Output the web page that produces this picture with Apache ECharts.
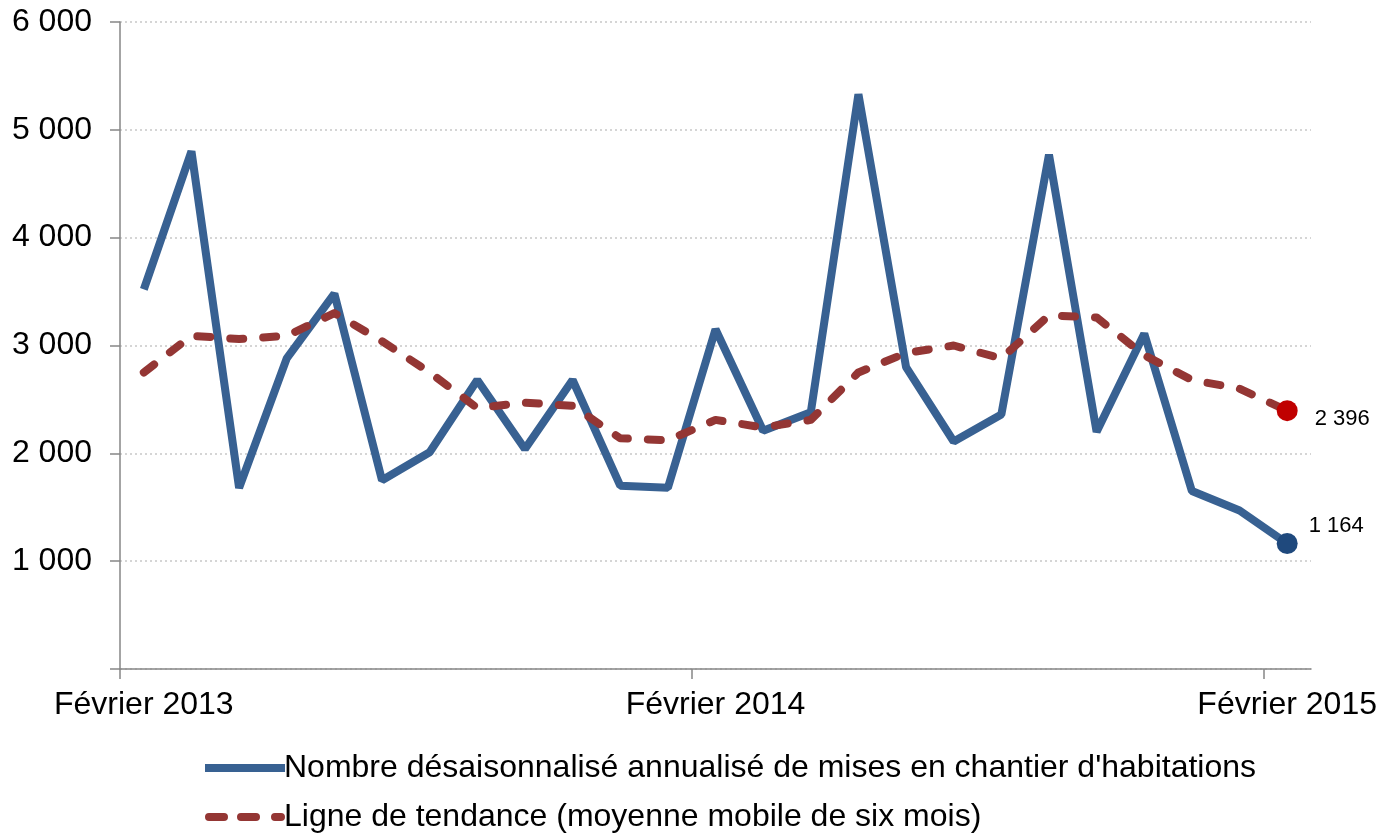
<!DOCTYPE html>
<html>
<head>
<meta charset="utf-8">
<script src="https://cdn.jsdelivr.net/npm/echarts@6/dist/echarts.min.js"></script>
<style>
html,body{margin:0;padding:0;background:#fff;}
#c{width:1393px;height:837px;}
</style>
</head>
<body>
<div id="c"></div>
<script>
const categories = [
 'Février 2013','Mars 2013','Avril 2013','Mai 2013','Juin 2013','Juillet 2013','Août 2013','Septembre 2013','Octobre 2013','Novembre 2013','Décembre 2013','Janvier 2014',
 'Février 2014','Mars 2014','Avril 2014','Mai 2014','Juin 2014','Juillet 2014','Août 2014','Septembre 2014','Octobre 2014','Novembre 2014','Décembre 2014','Janvier 2015',
 'Février 2015'];
const startsValues = [3520, 4800, 1680, 2880, 3480, 1750, 2010, 2680, 2040, 2680, 1700, 1680, 3150, 2210, 2380, 5330, 2800, 2110, 2360, 4770, 2200, 3110, 1650, 1470, 1164];
const trendValues = [2750, 3090, 3060, 3090, 3300, 3040, 2750, 2420, 2470, 2440, 2140, 2120, 2310, 2240, 2310, 2750, 2930, 3000, 2880, 3280, 3260, 2910, 2680, 2600, 2396];
const seriesNames = ["Nombre désaisonnalisé annualisé de mises en chantier d'habitations", 'Ligne de tendance (moyenne mobile de six mois)'];
// month boundaries (one more than the categories) used only to place the x-axis tick marks
const monthBoundaries = categories.concat(['']);

const FONT = 'Liberation Sans, Arial, sans-serif';
function fmt(v){ return String(v).replace(/\B(?=(\d{3})+(?!\d))/g, ' '); }

function withLastPoint(arr, color, labelOpts){
  return arr.map((v,i)=> i===arr.length-1 ? {
    value: v, symbol:'circle', symbolSize: 21,
    itemStyle:{color: color, borderWidth:0},
    label: Object.assign({show:true, formatter: p=>fmt(p.value), color:'#000', fontSize:22, fontFamily:FONT}, labelOpts)
  } : v);
}

const dashedIcon = 'path://M4,0 H19 A4,4 0 0 1 19,8 H4 A4,4 0 0 1 4,0 Z M36,0 H51 A4,4 0 0 1 51,8 H36 A4,4 0 0 1 36,0 Z M70,0 H76 A4,4 0 0 1 76,8 H70 A4,4 0 0 1 70,0 Z';

const chart = echarts.init(document.getElementById('c'), null, {renderer:'canvas'});
chart.setOption({
  animation:false,
  backgroundColor:'#ffffff',
  grid:{left:120, right:82, top:22, bottom:168, containLabel:false},
  legend:{
    orient:'vertical', left:205, top:752, padding:0,
    itemWidth:80, itemHeight:8, itemGap:17,
    textStyle:{fontSize:32, lineHeight:32, color:'#000', fontFamily:FONT, padding:[0,0,0,-6]},
    data: [
      {name: seriesNames[0], icon:'rect', itemStyle:{color:'#386192'}},
      {name: seriesNames[1], icon: dashedIcon, itemStyle:{color:'#943634'}}
    ]
  },
  xAxis:[{
    type:'category', data:categories, boundaryGap:true,
    axisLine:{lineStyle:{color:'#868686', width:1.5}},
    axisTick:{show:false},
    axisLabel:{interval:11, margin:20, fontSize:32, color:'#000', fontFamily:FONT},
    splitLine:{show:false}
  },{
    type:'category', data:monthBoundaries, boundaryGap:false, position:'bottom',
    axisLine:{show:false},
    axisTick:{show:true, length:10, interval: (i)=> i % 12 === 0 && i < categories.length, lineStyle:{color:'#868686', width:1.5}},
    axisLabel:{show:false},
    splitLine:{show:false}
  }],
  yAxis:{
    type:'value', min:0, max:6000, interval:1000,
    axisLine:{show:true, lineStyle:{color:'#868686', width:1.5}},
    axisTick:{show:true, length:10, lineStyle:{color:'#868686', width:1.5}},
    axisLabel:{margin:28, fontSize:32, color:'#000', fontFamily:FONT,
      formatter: v => v===0 ? '' : fmt(v)},
    splitLine:{show:true, lineStyle:{color:'#c8c8c8', width:1.5, type:[2,3]}}
  },
  series:[
    {
      name: seriesNames[0], type:'line', symbol:'none', z:2, xAxisIndex:0,
      lineStyle:{color:'#386192', width:8, join:'bevel', cap:'butt'},
      itemStyle:{color:'#386192'},
      data: withLastPoint(startsValues, '#1f497d', {position:'right', offset:[6,-18]})
    },
    {
      name: seriesNames[1], type:'line', symbol:'none', z:3, xAxisIndex:0,
      lineStyle:{color:'#943634', width:8, type:[13,20], cap:'round', join:'round'},
      itemStyle:{color:'#943634'},
      data: withLastPoint(trendValues, '#c00000', {position:'right', offset:[12,8]})
    }
  ]
});
</script>
</body>
</html>
